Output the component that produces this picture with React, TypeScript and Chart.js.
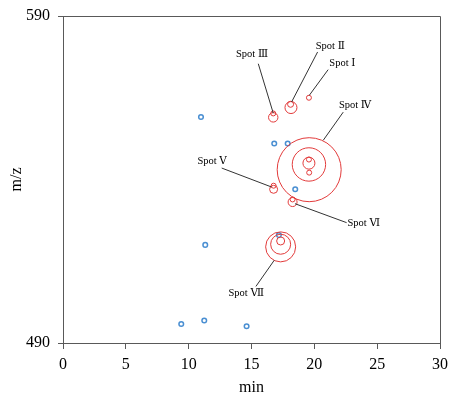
import React, { useEffect, useRef } from "react";
import { Chart, registerables } from "chart.js";

Chart.register(...registerables);

// ---- data ----
// red spot circles (x = min, y = m/z, r = radius px)
const redX = [19.57, 18.14, 18.11, 16.73, 16.73, 19.59, 19.57, 19.57, 19.57, 19.59, 16.76, 16.76, 18.27, 18.27, 17.32, 17.32, 17.32];
const redY = [565.0, 562.0, 563.0, 559.0, 560.2, 543.0, 544.6, 545.0, 546.1, 542.1, 537.0, 538.1, 533.1, 533.9, 519.4, 520.2, 521.2];
const redR = [2.5, 6, 3, 4.7, 2.5, 32, 16.7, 6, 2.5, 2.5, 4, 2.5, 4.5, 2.5, 15, 10, 4];

// blue points
const blueX = [10.98, 16.81, 17.88, 18.48, 17.18, 11.32, 9.41, 11.24, 14.61];
const blueY = [559.1, 551.0, 551.0, 537.0, 523.0, 520.0, 495.8, 496.9, 495.1];

// annotation labels
const spotLabels = ["Spot Ⅰ", "Spot Ⅱ", "Spot Ⅲ", "Spot Ⅳ", "Spot Ⅴ", "Spot Ⅵ", "Spot Ⅶ"];
const labelX = [22.23, 21.27, 15.04, 23.25, 11.87, 23.93, 14.58];
const labelY = [575.4, 580.7, 578.3, 562.6, 545.5, 526.5, 505.1];
const lineX1 = [21.1, 20.26, 15.54, 22.3, 12.63, 22.57, 16.81];
const lineY1 = [573.6, 579.0, 575.4, 560.6, 543.5, 526.8, 515.3];
const lineX2 = [19.6, 18.19, 16.73, 20.71, 16.6, 18.46, 15.35];
const lineY2 = [565.75, 563.7, 560.3, 552.0, 537.7, 532.6, 507.3];

const xTicks = [0, 5, 10, 15, 20, 25, 30];
const yTicks = [490, 590];

const SERIF = '"Liberation Serif", "DejaVu Serif", serif';

const annotationPlugin = {
  id: "spotAnnotations",
  afterDatasetsDraw(chart: any) {
    const { ctx, chartArea, scales } = chart;
    const xs = scales.x;
    const ys = scales.y;
    ctx.save();
    // box border top/right
    ctx.strokeStyle = "#595959";
    ctx.lineWidth = 1;
    ctx.beginPath();
    ctx.moveTo(chartArea.left, chartArea.top + 0.5);
    ctx.lineTo(chartArea.right + 0.5, chartArea.top + 0.5);
    ctx.lineTo(chartArea.right + 0.5, chartArea.bottom);
    ctx.stroke();
    // leader lines
    ctx.strokeStyle = "#333333";
    ctx.lineWidth = 1;
    for (let i = 0; i < spotLabels.length; i++) {
      ctx.beginPath();
      ctx.moveTo(xs.getPixelForValue(lineX1[i]), ys.getPixelForValue(lineY1[i]));
      ctx.lineTo(xs.getPixelForValue(lineX2[i]), ys.getPixelForValue(lineY2[i]));
      ctx.stroke();
    }
    ctx.fillStyle = "#000000";
    ctx.font = `10.5px ${SERIF}`;
    ctx.textAlign = "center";
    ctx.textBaseline = "middle";
    for (let i = 0; i < spotLabels.length; i++) {
      ctx.fillText(spotLabels[i], xs.getPixelForValue(labelX[i]), ys.getPixelForValue(labelY[i]));
    }
    ctx.restore();
  },
};

export default function App() {
  const ref = useRef<HTMLCanvasElement | null>(null);
  useEffect(() => {
    document.body.style.margin = "0";
    if (!ref.current) return;
    const redData = redX.map((x, i) => ({ x, y: redY[i], r: redR[i] }));
    const blueData = blueX.map((x, i) => ({ x, y: blueY[i], r: 2.3 }));
    const chart = new Chart(ref.current, {
      type: "bubble",
      data: {
        datasets: [
          {
            label: "red",
            data: redData,
            borderColor: "#e23a3a",
            backgroundColor: "rgba(0,0,0,0)",
            borderWidth: 1,
          },
          {
            label: "blue",
            data: blueData,
            borderColor: "#4a8fd2",
            backgroundColor: "rgba(255,255,255,0)",
            borderWidth: 1.5,
          },
        ],
      },
      options: {
        responsive: false,
        animation: false,
        events: [],
        layout: { autoPadding: false, padding: { top: 16, right: 10, left: 0, bottom: 0 } },
        plugins: { legend: { display: false }, tooltip: { enabled: false } },
        scales: {
          x: {
            type: "linear",
            min: 0,
            max: 30,
            afterFit: (s: any) => {
              s.height = 53;
              s.paddingLeft = 0;
              s.paddingRight = 0;
            },
            afterBuildTicks: (s: any) => {
              s.ticks = xTicks.map((v) => ({ value: v }));
            },
            ticks: { font: { family: SERIF, size: 16 }, color: "#000", padding: 6, maxRotation: 0 },
            grid: { drawOnChartArea: false, drawTicks: true, tickLength: 6, color: "#595959" },
            border: { display: true, color: "#595959" },
            title: {
              display: true,
              text: "min",
              color: "#000",
              font: { family: SERIF, size: 16, lineHeight: 1 },
              padding: { top: 0, bottom: 0 },
            },
          },
          y: {
            type: "linear",
            min: 490,
            max: 590,
            afterFit: (s: any) => {
              s.width = 63;
              s.paddingTop = 0;
              s.paddingBottom = 0;
            },
            afterBuildTicks: (s: any) => {
              s.ticks = yTicks.map((v) => ({ value: v }));
            },
            ticks: { font: { family: SERIF, size: 16 }, color: "#000", padding: 8 },
            grid: { drawOnChartArea: false, drawTicks: true, tickLength: 5, color: "#595959" },
            border: { display: true, color: "#595959" },
            title: {
              display: true,
              text: "m/z",
              color: "#000",
              font: { family: SERIF, size: 16, lineHeight: 1 },
              padding: { top: 9, bottom: 0 },
            },
          },
        },
      },
      plugins: [annotationPlugin],
    } as any);
    return () => chart.destroy();
  }, []);
  return (
    <div style={{ position: "absolute", left: 0, top: 0, width: 450, height: 396 }}>
      <canvas ref={ref} width={450} height={396} />
    </div>
  );
}
